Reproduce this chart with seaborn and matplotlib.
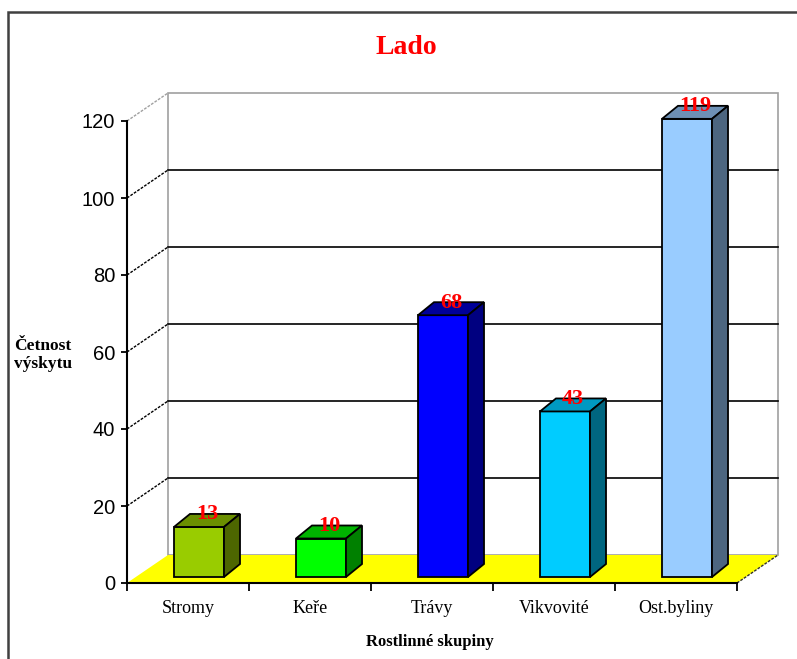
import matplotlib
matplotlib.use("Agg")
import matplotlib.pyplot as plt
from matplotlib.patches import Polygon, Rectangle
import seaborn as sns

# Data
categories = ["Stromy", "Keře", "Trávy", "Vikvovité", "Ost.byliny"]
counts = [13, 10, 68, 43, 119]
front_colors = ["#99CC00", "#00FF00", "#0000FF", "#00CCFF", "#99CCFF"]
top_colors = ["#6B8F00", "#00B300", "#000099", "#0099C2", "#6E90B5"]
side_colors = ["#4D6600", "#008000", "#000080", "#006680", "#4D6680"]
y_ticks = [0, 20, 40, 60, 80, 100, 120]

W, H = 797, 659
fig = plt.figure(figsize=(W / 100, H / 100), dpi=100)
ax = fig.add_axes([0, 0, 1, 1])

# geometry of the pseudo-3D box (pixel sizes converted to data units)
AX_X, AX_Y = 127, 583          # front origin in pixels
CAT_PX, VAL_PX = 122, 3.85     # pixels per category / per unit value
DX, DY = 41 / CAT_PX, 28 / VAL_PX     # full depth of the floor
FX, FY = 11 / CAT_PX, 6 / VAL_PX      # bars sit a little behind the front
BX, BY = 16 / CAT_PX, 13 / VAL_PX     # depth of a bar

sns.barplot(x=categories, y=counts, hue=categories, palette=front_colors,
            legend=False, width=0.41, edgecolor="black", linewidth=1.3,
            saturation=1, errorbar=None, ax=ax, zorder=5)

ax.set_xlim(-0.5 - AX_X / CAT_PX, -0.5 + (W - AX_X) / CAT_PX)
ax.set_ylim((AX_Y - H) / VAL_PX, AX_Y / VAL_PX)
n = len(categories)
left, right = -0.5, n - 0.5
top = y_ticks[-1]

wall_grey = "#A0A0A0"
# back wall
ax.add_patch(Rectangle((left + DX, DY), right - left, top, facecolor="white",
                       edgecolor=wall_grey, linewidth=1.2, zorder=1))
for v in y_ticks[1:-1]:
    ax.plot([left + DX, right + DX], [v + DY, v + DY], color="black",
            linewidth=1.2, zorder=1.5)
# side-wall diagonals
for v in y_ticks[1:]:
    col = wall_grey if v == top else "black"
    ax.plot([left, left + DX], [v, v + DY], color=col, linewidth=1.0,
            linestyle=(0, (2, 1)), zorder=1.5)
# floor
ax.add_patch(Polygon([(left, 0), (right, 0), (right + DX, DY), (left + DX, DY)],
                     closed=True, facecolor="#FFFF00", edgecolor="none", zorder=2))
ax.plot([right, right + DX], [0, DY], color="#303030", linewidth=1.0,
        linestyle=(0, (2, 1)), zorder=2.5)

# give the bars depth
bars = sorted([p for c in ax.containers for p in c], key=lambda p: p.get_x())
for i, p in enumerate(bars):
    x = p.get_x() + FX
    w = p.get_width()
    h = p.get_height()
    p.set_x(x)
    p.set_y(FY)
    topface = [(x, FY + h), (x + w, FY + h), (x + w + BX, FY + h + BY), (x + BX, FY + h + BY)]
    side = [(x + w, FY), (x + w + BX, FY + BY), (x + w + BX, FY + h + BY), (x + w, FY + h)]
    ax.add_patch(Polygon(topface, closed=True, facecolor=top_colors[i],
                         edgecolor="black", linewidth=1.3, zorder=5))
    ax.add_patch(Polygon(side, closed=True, facecolor=side_colors[i],
                         edgecolor="black", linewidth=1.3, zorder=5))
    ax.text(x + w / 2 + BX / 2, FY + h + BY / 2 + 1.6, f"{counts[i]}",
            ha="center", va="center", color="#FF0000", fontsize=16,
            fontweight="bold", family="Liberation Serif", zorder=6)

# front axes
for s in ["top", "right"]:
    ax.spines[s].set_visible(False)
ax.spines["left"].set_position(("data", left))
ax.spines["left"].set_bounds(0, top)
ax.spines["bottom"].set_position(("data", 0))
ax.spines["bottom"].set_bounds(left, right)
for s in ["left", "bottom"]:
    ax.spines[s].set_linewidth(1.5)
    ax.spines[s].set_color("black")
    ax.spines[s].set_zorder(7)

ax.set_yticks(y_ticks)
ax.set_yticklabels([str(v) for v in y_ticks], fontsize=14.5,
                   family="Liberation Sans")
ax.tick_params(axis="y", direction="out", length=4, width=1.3, pad=4.5)

ax.set_xticks([left + k for k in range(n + 1)])
ax.set_xticklabels([""] * (n + 1))
ax.set_xticks(range(n), minor=True)
ax.set_xticklabels(categories, minor=True, fontsize=13,
                   family="Liberation Serif")
ax.tick_params(axis="x", which="major", direction="out", length=5.5, width=1.3)
ax.tick_params(axis="x", which="minor", length=0, pad=12)
ax.set_xlabel("")
ax.set_ylabel("")
ax.patch.set_alpha(0)

# titles
fig.text(406 / W, 1 - 48 / H, "Lado", ha="center", va="center", color="#FF0000",
         fontsize=20, fontweight="bold", family="Liberation Serif")
fig.text(430 / W, 1 - 642 / H, "Rostlinné skupiny", ha="center", va="center",
         fontsize=12, fontweight="bold", family="Liberation Serif")
fig.text(14 / W, 1 - 355 / H, "Četnost\nvýskytu", ha="left", va="center",
         fontsize=12.5, fontweight="bold", family="Liberation Serif",
         linespacing=1.15)

# outer frame
fig.add_artist(Rectangle((8 / W, -0.1), 1.2, 1 - 12 / H + 0.1,
                         transform=fig.transFigure, fill=False,
                         edgecolor="#404040", linewidth=1.8))

fig.savefig("out.png", dpi=100)
